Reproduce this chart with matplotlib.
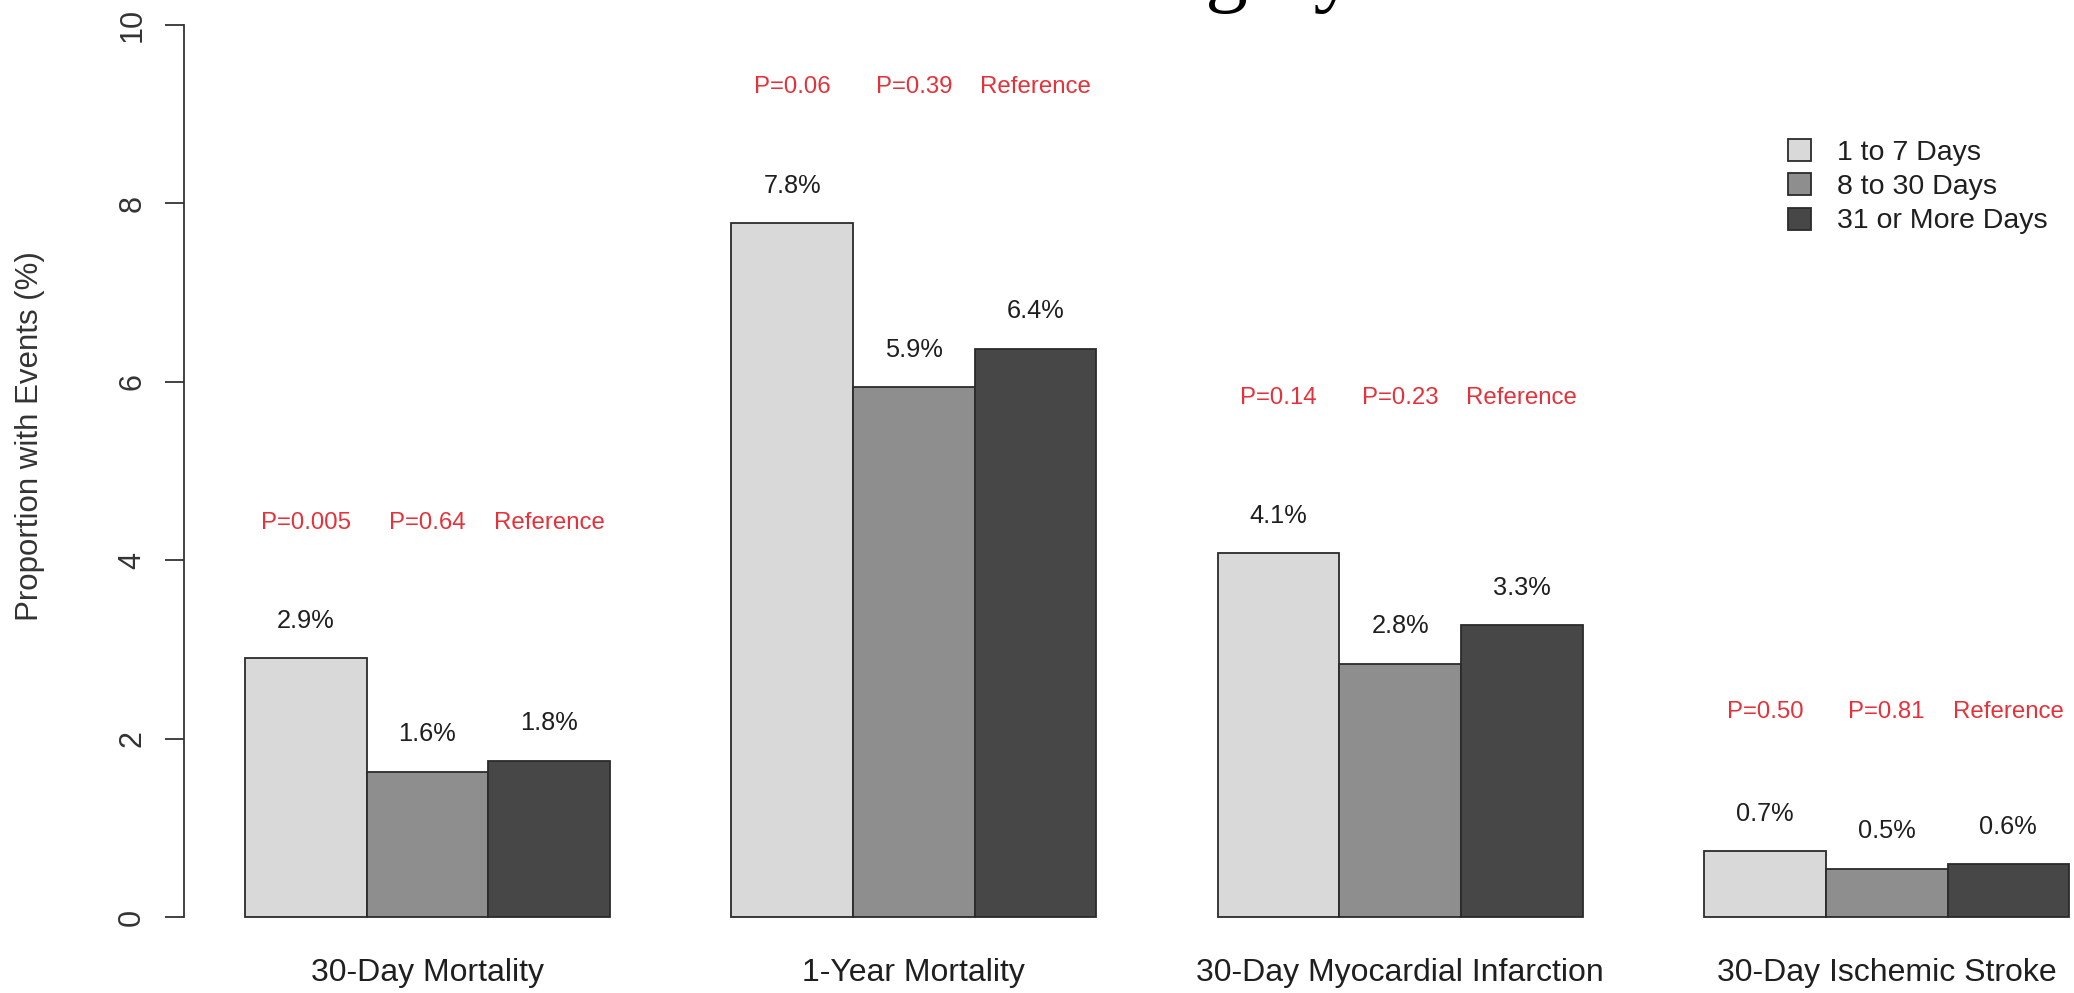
import matplotlib
matplotlib.use("Agg")
import matplotlib.pyplot as plt
from matplotlib.patches import Patch

# ---- data ----
categories = ["30-Day Mortality", "1-Year Mortality",
              "30-Day Myocardial Infarction", "30-Day Ischemic Stroke"]
series_names = ["1 to 7 Days", "8 to 30 Days", "31 or More Days"]
days_1_7 = [2.90, 7.78, 4.08, 0.74]
days_8_30 = [1.63, 5.94, 2.84, 0.54]
days_31_plus = [1.75, 6.37, 3.27, 0.59]
p_values = [["P=0.005", "P=0.64", "Reference"],
            ["P=0.06", "P=0.39", "Reference"],
            ["P=0.14", "P=0.23", "Reference"],
            ["P=0.50", "P=0.81", "Reference"]]
y_ticks = [0, 2, 4, 6, 8, 10]

# ---- style ----
fills = ["#d9d9d9", "#8e8e8e", "#474747"]
edge = "#2b2b2b"
red = "#e5323a"
txt = "#1f1f1f"
plt.rcParams["font.family"] = ["Liberation Sans", "DejaVu Sans"]

W, H = 2074, 993
fig = plt.figure(figsize=(W / 100, H / 100), dpi=100)
left_px, right_px, bottom_px, top_px = 184, 2074, 917, 25
ax = fig.add_axes([left_px / W, 1 - bottom_px / H,
                   (right_px - left_px) / W, (bottom_px - top_px) / H])
ax.set_xlim(0.498, 16.04)
ax.set_ylim(0, 10)

series = [days_1_7, days_8_30, days_31_plus]
pval_y = [4.42, 9.30, 5.82, 2.30]
for g in range(len(categories)):
    for b, vals in enumerate(series):
        x0 = 1 + 4 * g + b
        h = vals[g]
        ax.bar(x0 + 0.5, h, width=1.0, color=fills[b], edgecolor=edge,
               linewidth=1.3, clip_on=False, zorder=2)
        ax.text(x0 + 0.5, h + 0.42, f"{h:.1f}%", ha="center", va="center",
                fontsize=18.3, color=txt, clip_on=False)
        ax.text(x0 + 0.5, pval_y[g], p_values[g][b], ha="center", va="center",
                fontsize=17.3, color=red, clip_on=False)
    ax.text(1 + 4 * g + 1.5, -0.63, categories[g], ha="center", va="center",
            fontsize=23, color=txt, clip_on=False)

# axes decoration
for s in ["top", "right", "bottom"]:
    ax.spines[s].set_visible(False)
ax.spines["left"].set_color("#333333")
ax.spines["left"].set_linewidth(1.3)
ax.set_xticks([])
ax.set_yticks(y_ticks)
ax.set_yticklabels([str(t) for t in y_ticks], rotation=90, va="center",
                   fontsize=22, color="#333333")
ax.tick_params(axis="y", length=13.5, width=1.3, color="#333333", pad=13)

fig.text(30 / W, 1 - 436 / H, "Proportion with Events (%)", rotation=90,
         ha="center", va="center", fontsize=22.5, color="#333333")

# legend
handles = [Patch(facecolor=fills[i], edgecolor=edge, linewidth=1.3,
                 label=series_names[i]) for i in range(3)]
fig.legend(handles=handles, loc="upper left",
           bbox_to_anchor=(1788 / W, 1 - 139 / H), frameon=False,
           fontsize=20.5, handlelength=0.81, handleheight=0.81,
           handletextpad=0.91, labelspacing=0.26, borderpad=0,
           borderaxespad=0, labelcolor=txt)

# title, largely above the top edge of the canvas
fig.text(805 / W, 1 + 3.5 / H, "Time to Surgery", ha="left", va="baseline",
         fontsize=61, family=["Liberation Serif", "DejaVu Serif"],
         color="black")

fig.savefig("out.png", dpi=100)
